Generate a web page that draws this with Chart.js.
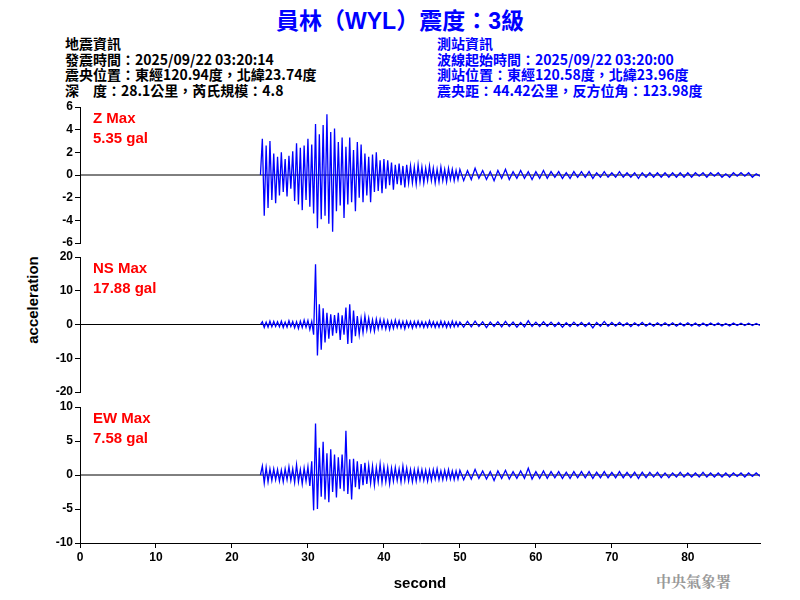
<!DOCTYPE html>
<html><head><meta charset="utf-8">
<script src="https://cdn.jsdelivr.net/npm/chart.js@4"></script>
<style>
body{margin:0;width:800px;height:600px;background:#fff;position:relative;overflow:hidden;font-family:"Noto Sans CJK TC",sans-serif}
.t{position:absolute;white-space:nowrap}
.w{position:absolute;left:0;width:800px}
.info{font-size:14px;font-weight:bold;line-height:15.5px}
.red{color:#f00;font:bold 15px "Liberation Sans",Arial,sans-serif;line-height:20px}
</style></head><body>
<div class="t" style="left:0;width:800px;top:2px;text-align:center;color:#0000ff;font-size:23px;font-weight:bold">員林（<span style="font-family:'Liberation Sans'">WYL</span>）震度：<span style="font-family:'Liberation Sans'">3</span>級</div>
<div class="t info" style="left:65px;top:36px;color:#000">地震資訊<br>發震時間：2025/09/22 03:20:14<br>震央位置：東經120.94度，北緯23.74度<br>深　度：28.1公里，芮氏規模：4.8</div>
<div class="t info" style="left:437px;top:36px;color:#0000ff">測站資訊<br>波線起始時間：2025/09/22 03:20:00<br>測站位置：東經120.58度，北緯23.96度<br>震央距：44.42公里，反方位角：123.98度</div>
<div class="t" style="left:24px;top:300px;transform:translate(-50%,-50%) rotate(-90deg);transform-origin:center;font:bold 15px 'Liberation Sans',Arial;margin-left:8px">acceleration</div>
<div class="t" style="left:656px;top:570px;color:#999;font-size:15px;font-weight:bold;font-family:'Noto Serif CJK TC','Noto Sans CJK TC'">中央氣象署</div>
<div class="w" style="top:97px;height:156px"><canvas id="c1"></canvas></div>
<div class="w" style="top:247px;height:155px"><canvas id="c2"></canvas></div>
<div class="w" style="top:397px;height:203px"><canvas id="c3"></canvas></div>
<div class="t red" style="left:93px;top:108px">Z Max<br>5.35 gal</div>
<div class="t red" style="left:93px;top:258px">NS Max<br>17.88 gal</div>
<div class="t red" style="left:93px;top:408px">EW Max<br>7.58 gal</div>
<script>
const zValues=[0,
3.2,-3.6,2.6,-2.9,3.0,-2.2,1.9,-2.5,
1.6,-1.8,2.0,-1.5,1.4,-1.9,1.7,-1.2,
2.1,-2.3,2.8,-2.6,2.4,-3.1,2.6,-2.2,
3.2,-2.8,2.7,-3.4,4.5,-4.7,3.6,-3.9,
4.4,-3.6,5.35,-4.3,3.8,-5.0,4.1,-3.2,
2.9,-2.7,3.3,-3.8,2.5,-2.6,3.3,-2.4,
2.2,-3.2,2.9,-2.0,2.7,-2.4,1.9,-1.8,
1.6,-2.4,1.8,-1.5,2.0,-1.4,1.3,-1.6,
1.4,-1.2,1.3,-0.9,1.1,-1.3,0.9,-0.8,
1.0,-0.9,0.8,-1.1,0.9,-0.7,0.8,-0.7,
0.7,-0.8,0.9,-0.6,0.7,-0.7,0.6,-0.5,
0.8,-0.5,0.6,-0.7,0.5,-0.6,0.7,-0.5,
0.5,-0.6,0.6,-0.4,0.5,-0.5,0.4,-0.4,0.5,
-0.5,0.4,-0.4,0.6,-0.3,0.4,-0.4,0.3,-0.5,0.4,
-0.3,0.5,-0.4,0.3,-0.3,0.4,-0.3,0.3,-0.4,0.3,
-0.3,0.4,-0.3,0.3,-0.2,0.3,-0.3,0.2,-0.3,0.3,
-0.2,0.3,-0.2,0.3,-0.3,0.2,-0.2,0.3,-0.2,0.2,
-0.2,0.3,-0.2,0.2,-0.2,0.2,-0.3,0.2,-0.2,0.2,
-0.2,0.2,-0.2,0.2,-0.2,0.2,-0.2,0.2,-0.2,0.2,
-0.2,0.2,-0.1,0.2,-0.2,0.2,-0.1,0.2,-0.2,0.1,
-0.2,0.2,-0.1,0.2,-0.1,0.2,-0.2,0.1,-0.1];
const nsValues=[0,
0.8,-0.9,0.7,-0.8,1.0,-0.7,0.9,-0.6,
0.8,-0.7,1.0,-0.9,0.7,-0.8,1.1,-0.6,
0.9,-1.0,0.8,-1.2,1.0,-0.9,1.3,-0.8,
1.2,-1.5,0.9,-3.0,17.88,-9.2,6.0,-7.5,
4.8,-5.3,3.5,-4.2,3.0,-3.3,2.8,-2.6,
3.5,-4.6,2.7,-3.0,5.0,-5.8,6.0,-5.5,
4.1,-3.5,2.5,-3.0,1.8,-2.4,2.5,-1.6,
1.9,-1.8,1.4,-2.0,1.6,-1.3,1.5,-1.1,
1.4,-1.3,1.1,-1.5,1.0,-1.2,1.3,-0.9,
1.1,-1.0,0.9,-1.3,1.0,-0.8,0.9,-1.1,
0.9,-0.8,1.0,-0.7,0.8,-0.9,0.7,-0.8,
1.1,-0.7,0.8,-0.9,0.7,-0.8,1.0,-0.7,
0.8,-0.9,0.7,-0.8,1.0,-0.7,0.8,-0.6,0.7,
-0.8,0.9,-0.7,1.0,-0.6,0.8,-0.9,0.7,-0.6,0.8,
-0.7,0.9,-0.6,0.7,-0.8,0.6,-0.7,1.1,-0.6,0.7,
-0.6,0.8,-0.5,0.7,-0.6,0.6,-0.8,0.5,-0.6,0.7,
-0.5,0.6,-0.6,0.5,-1.0,0.6,-0.5,0.9,-0.5,0.6,
-0.5,0.6,-0.4,0.5,-0.6,0.5,-0.4,0.6,-0.5,0.4,
-0.5,0.5,-0.4,0.5,-0.4,0.5,-0.5,0.4,-0.4,0.5,
-0.4,0.4,-0.5,0.4,-0.4,0.4,-0.3,0.4,-0.4,0.3,
-0.4,0.4,-0.3,0.4,-0.3,0.4,-0.3,0.3,-0.3];
const ewValues=[0,
1.3,-1.2,1.1,-1.0,0.9,-0.8,0.9,-0.7,
0.8,-0.9,0.7,-1.0,0.9,-0.7,1.2,-0.8,
0.9,-1.1,1.5,-1.0,0.8,-1.3,1.0,-0.9,
1.2,-1.6,2.0,-5.2,7.58,-5.0,4.0,-3.2,
4.9,-3.6,3.2,-4.0,3.8,-2.5,3.0,-3.3,
2.6,-2.0,3.0,-2.4,6.5,-2.8,2.3,-3.6,
2.4,-1.8,2.0,-2.1,1.6,-1.5,1.8,-1.3,
1.4,-1.2,1.3,-1.5,1.1,-1.0,1.6,-1.1,
1.2,-1.0,1.1,-1.3,1.0,-0.9,1.1,-0.8,
0.9,-1.0,1.3,-0.8,1.0,-0.9,0.8,-1.0,
0.8,-0.9,0.9,-0.7,0.8,-0.8,0.7,-0.9,
0.7,-0.8,0.8,-0.6,0.9,-0.7,0.6,-0.7,
0.7,-0.6,0.8,-0.6,0.6,-0.7,0.6,-0.6,0.7,
-0.7,0.6,-0.6,0.8,-0.5,0.6,-0.6,0.5,-0.8,0.6,
-0.5,0.7,-0.6,0.5,-0.5,0.6,-0.5,1.0,-0.6,0.5,
-0.5,0.6,-0.5,0.5,-0.4,0.5,-0.5,0.4,-0.5,0.5,
-0.4,0.5,-0.4,0.5,-0.5,0.4,-0.4,0.5,-0.4,0.4,
-0.4,0.5,-0.4,0.4,-0.4,0.4,-0.5,0.4,-0.4,0.4,
-0.3,0.4,-0.4,0.3,-0.4,0.3,-0.3,0.4,-0.3,0.3,
-0.3,0.3,-0.3,0.4,-0.3,0.3,-0.3,0.3,-0.3,0.3,
-0.3,0.3,-0.2,0.3,-0.3,0.3,-0.2,0.3,-0.2];
const xTicks=[0,10,20,30,40,50,60,70,80];
const xMax=89.5;
// sample times: 0.25 s grid from 23.75 s to 50 s, then 0.5 s grid
function timeAt(i){return i<106?23.75+0.25*i:50+0.5*(i-105);}
function pts(vals){return vals.map((v,i)=>({x:timeAt(i),y:v}));}
const F={family:"'Liberation Sans',Arial",size:12,weight:'bold'};
function make(id,vals,min,max,step,showX){
  new Chart(document.getElementById(id),{type:'line',
    data:{datasets:[
      {data:pts(vals),borderColor:'#0000ff',borderWidth:1.3,pointRadius:0,tension:0},
      {data:[{x:0,y:0},{x:xMax,y:0}],borderColor:'#000',borderWidth:1,pointRadius:0}
    ]},
    options:{responsive:true,maintainAspectRatio:false,animation:false,
      layout:{padding:{top:10,bottom:showX?7:10,right:40,left:0}},
      plugins:{legend:{display:false},tooltip:{enabled:false}},
      scales:{
        x:{type:'linear',min:0,max:xMax,display:showX,
          afterBuildTicks:a=>{a.ticks=xTicks.map(v=>({value:v}));},
          grid:{drawOnChartArea:false,drawTicks:true,tickLength:5,color:'#000'},
          border:{color:'#000',width:1},
          ticks:{color:'#000',font:F,padding:2,maxRotation:0},
          title:{display:true,text:'second',color:'#000',font:{family:"'Liberation Sans',Arial",size:15,weight:'bold'},padding:{top:4,bottom:0}},
          afterFit:a=>{a.height=showX?50:0;}},
        y:{min:min,max:max,
          ticks:{stepSize:step,color:'#000',font:F,padding:2,autoSkip:false},
          grid:{drawOnChartArea:false,drawTicks:true,tickLength:5,color:'#000'},
          border:{color:'#000',width:1},
          afterFit:a=>{a.width=80;}}
      }}});
}
make('c1',zValues,-6,6,2,false);
make('c2',nsValues,-20,20,10,false);
make('c3',ewValues,-10,10,5,true);
</script></body></html>
